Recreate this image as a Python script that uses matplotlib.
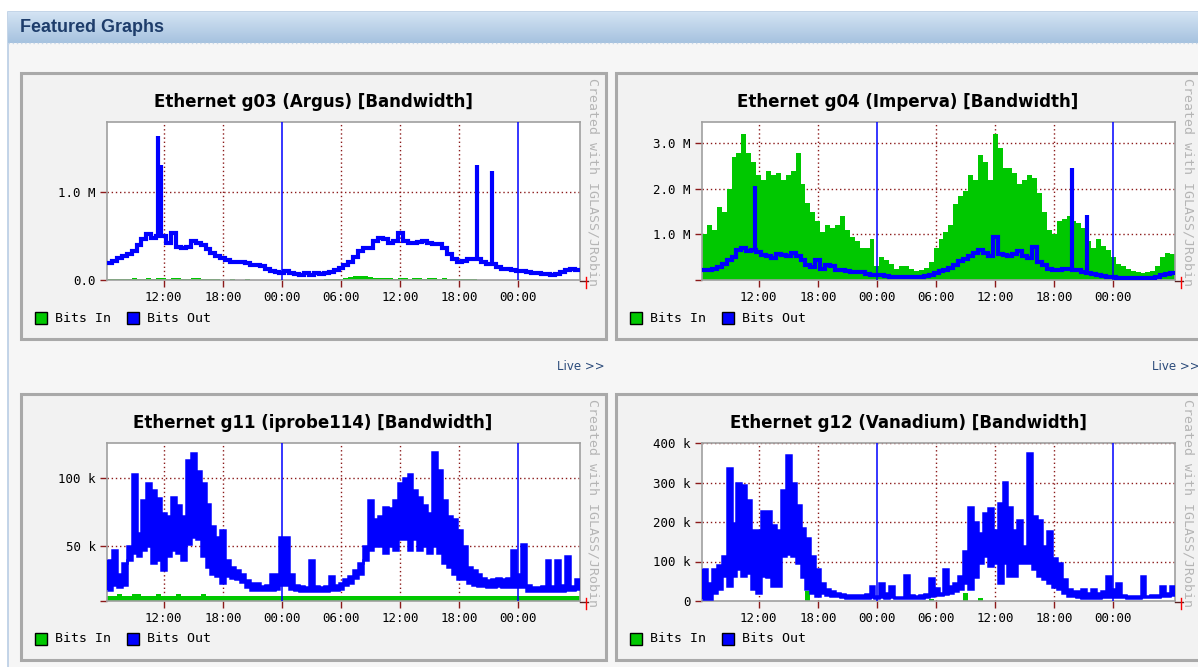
import numpy as np
import matplotlib.pyplot as plt
from matplotlib.patches import Rectangle
from matplotlib.colors import LinearSegmentedColormap

W, H = 1198, 667

# time axis: half-hour bins starting at 06:15 on day one (hours from day-one midnight)
start_hour = 6.25
bin_hours = 0.5
tick_hours = [12, 18, 24, 30, 36, 42, 48]
tick_labels = ["12:00", "18:00", "00:00", "06:00", "12:00", "18:00", "00:00"]
midnights = [24, 48]

titles = ["Ethernet g03 (Argus) [Bandwidth]",
          "Ethernet g04 (Imperva) [Bandwidth]",
          "Ethernet g11 (iprobe114) [Bandwidth]",
          "Ethernet g12 (Vanadium) [Bandwidth]"]

# g03, Mbit/s
g03_in = [0.01, 0.015, 0.015, 0.01, 0.015, 0.02, 0.015, 0.015, 0.02, 0.015,
          0.02, 0.02, 0.015, 0.02, 0.02, 0.015, 0.015, 0.02, 0.02, 0.015,
          0.015, 0.01, 0.01, 0.005, 0.005, 0.01, 0.005, 0.005, 0.01, 0.005,
          0.005, 0.005, 0.005, 0.005, 0.005, 0.005, 0.005, 0.005, 0.005, 0.005,
          0.005, 0.005, 0.005, 0.005, 0.01, 0.01, 0.01, 0.015, 0.02, 0.03,
          0.045, 0.05, 0.045, 0.03, 0.025, 0.02, 0.02, 0.02, 0.015, 0.02,
          0.02, 0.015, 0.02, 0.02, 0.015, 0.02, 0.02, 0.015, 0.02, 0.015,
          0.015, 0.01, 0.01, 0.01, 0.01, 0.005, 0.005, 0.005, 0.005, 0.005,
          0.005, 0.005, 0.005, 0.005, 0.005, 0.005, 0.005, 0.005, 0.005, 0.005,
          0.005, 0.005, 0.005, 0.005, 0.005, 0.005]
g03_out = [0.19, 0.22, 0.25, 0.27, 0.30, 0.33, 0.40, 0.47, 0.52, 0.48,
           0.50, 0.50, 0.42, 0.54, 0.38, 0.36, 0.38, 0.44, 0.42, 0.40,
           0.35, 0.31, 0.27, 0.25, 0.23, 0.20, 0.20, 0.21, 0.19, 0.17,
           0.17, 0.16, 0.13, 0.10, 0.09, 0.08, 0.10, 0.08, 0.07, 0.06,
           0.08, 0.06, 0.08, 0.07, 0.08, 0.09, 0.11, 0.14, 0.17, 0.21,
           0.26, 0.33, 0.36, 0.36, 0.45, 0.48, 0.47, 0.42, 0.45, 0.53,
           0.45, 0.42, 0.42, 0.43, 0.45, 0.42, 0.41, 0.41, 0.36, 0.30,
           0.24, 0.20, 0.22, 0.24, 0.24, 0.24, 0.20, 0.18, 0.18, 0.15,
           0.13, 0.12, 0.11, 0.10, 0.10, 0.09, 0.08, 0.08, 0.07, 0.07,
           0.06, 0.07, 0.09, 0.11, 0.12, 0.11]
g03_spike_hours = [11.45, 11.75, 43.75, 45.27]
g03_spike_values = [1.64, 1.31, 1.31, 1.24]

# g04, Mbit/s
g04_in = [1.0, 1.2, 1.1, 1.6, 1.5, 2.0, 2.7, 2.8, 3.2, 2.8,
          2.6, 2.3, 2.2, 2.4, 2.3, 2.35, 2.2, 2.3, 2.4, 2.8,
          2.1, 1.7, 1.5, 1.3, 1.05, 1.2, 1.15, 1.2, 1.4, 1.1,
          0.95, 0.85, 0.7, 0.7, 0.9, 0.3, 0.5, 0.45, 0.36, 0.25,
          0.3, 0.3, 0.25, 0.2, 0.22, 0.27, 0.4, 0.7, 0.9, 1.05,
          1.2, 1.68, 1.85, 1.95, 2.3, 2.2, 2.75, 2.6, 2.2, 3.2,
          2.9, 2.45, 2.45, 2.35, 2.1, 2.2, 2.3, 2.25, 1.9, 1.5,
          1.1, 1.0, 1.3, 1.35, 1.4, 1.3, 1.25, 1.15, 0.85, 0.7,
          0.9, 0.75, 0.66, 0.5, 0.36, 0.3, 0.25, 0.2, 0.18, 0.16,
          0.17, 0.2, 0.3, 0.5, 0.6, 0.58]
g04_out = [0.23, 0.23, 0.25, 0.28, 0.35, 0.43, 0.50, 0.66, 0.70, 0.63,
           0.65, 0.62, 0.55, 0.52, 0.49, 0.58, 0.55, 0.52, 0.60, 0.52,
           0.45, 0.33, 0.28, 0.45, 0.24, 0.33, 0.30, 0.22, 0.22, 0.19,
           0.18, 0.18, 0.17, 0.13, 0.11, 0.11, 0.10, 0.08, 0.07, 0.06,
           0.06, 0.06, 0.06, 0.06, 0.07, 0.09, 0.11, 0.15, 0.19, 0.22,
           0.27, 0.33, 0.41, 0.47, 0.53, 0.60, 0.66, 0.60, 0.53, 0.95,
           0.58, 0.55, 0.52, 0.58, 0.63, 0.52, 0.48, 0.73, 0.40, 0.34,
           0.25, 0.22, 0.22, 0.25, 0.24, 0.22, 0.22, 0.18, 0.16, 0.14,
           0.11, 0.09, 0.07, 0.06, 0.05, 0.04, 0.04, 0.04, 0.04, 0.04,
           0.04, 0.05, 0.07, 0.10, 0.13, 0.15]
g04_spike_hours = [11.65, 43.8, 45.27]
g04_spike_values = [2.06, 2.46, 1.42]

# g11, kbit/s (out is noisy: upper and lower swing per bin)
g11_in = [14, 14, 15, 14, 14, 15, 15, 14, 14, 14,
          15, 14, 14, 14, 15, 14, 14, 14, 14, 15,
          14, 14, 14, 14, 14, 14, 14, 14, 14, 14,
          14, 14, 14, 14, 14, 14, 14, 14, 14, 14,
          14, 14, 14, 14, 14, 14, 14, 14, 14, 14,
          14, 14, 14, 14, 14, 14, 14, 14, 14, 14,
          14, 14, 14, 14, 14, 14, 14, 14, 14, 14,
          14, 14, 14, 14, 14, 14, 14, 14, 14, 14,
          14, 14, 14, 14, 14, 14, 14, 14, 14, 14,
          14, 14, 14, 14, 14, 14]
g11_out_hi = [40, 47, 30, 38, 50, 103, 60, 84, 96, 91,
              85, 74, 72, 86, 80, 72, 113, 118, 105, 96,
              81, 65, 57, 62, 40, 35, 33, 30, 25, 23,
              23, 21, 22, 30, 30, 57, 57, 30, 22, 21,
              20, 40, 21, 20, 21, 28, 22, 23, 26, 28,
              33, 38, 50, 84, 70, 72, 79, 78, 84, 96,
              100, 103, 91, 86, 80, 74, 119, 106, 84, 72,
              70, 62, 50, 35, 33, 30, 27, 25, 26, 27,
              26, 27, 47, 30, 52, 22, 20, 20, 21, 40,
              21, 40, 22, 43, 21, 26]
g11_out_lo = [18, 22, 20, 22, 40, 45, 43, 47, 50, 38,
              40, 33, 43, 47, 45, 40, 52, 57, 55, 43,
              35, 30, 28, 23, 28, 27, 26, 24, 20, 18,
              18, 18, 18, 18, 19, 22, 22, 19, 18, 17,
              17, 17, 17, 17, 17, 18, 18, 19, 22, 23,
              27, 30, 40, 47, 50, 50, 45, 50, 47, 55,
              55, 47, 55, 47, 50, 45, 50, 45, 38, 35,
              30, 26, 26, 23, 22, 21, 21, 20, 20, 21,
              20, 20, 20, 20, 20, 17, 17, 17, 17, 17,
              17, 17, 17, 18, 18, 19]

# g12, kbit/s
g12_in = [0.5] * 21 + [25] + [0.5] * 24 + [4] + [0.5] * 6 + [21, 0.5, 0.5, 8] + [0.5] * 39
g12_out_hi = [80, 46, 80, 92, 113, 336, 197, 298, 294, 256,
              180, 180, 227, 227, 193, 180, 281, 370, 298, 244,
              185, 160, 113, 80, 46, 30, 25, 20, 17, 15,
              15, 15, 14, 17, 38, 13, 46, 20, 38, 10,
              10, 67, 15, 12, 15, 17, 59, 34, 21, 80,
              38, 45, 63, 126, 239, 200, 172, 223, 235, 180,
              248, 302, 239, 180, 206, 139, 374, 214, 206, 139,
              176, 110, 97, 55, 30, 25, 25, 30, 20, 30,
              20, 25, 63, 30, 46, 15, 12, 12, 12, 63,
              13, 14, 15, 38, 20, 38]
g12_out_lo = [4, 4, 20, 30, 63, 38, 63, 80, 63, 71,
              30, 21, 63, 60, 38, 38, 113, 120, 113, 97,
              60, 30, 21, 13, 21, 15, 13, 13, 10, 8,
              8, 8, 8, 8, 10, 8, 10, 8, 10, 8,
              8, 8, 8, 8, 8, 10, 12, 15, 15, 18,
              21, 25, 30, 46, 30, 60, 97, 113, 88, 97,
              46, 97, 63, 63, 97, 97, 97, 80, 63, 55,
              46, 35, 30, 21, 13, 13, 10, 8, 8, 8,
              8, 10, 10, 10, 10, 10, 8, 8, 8, 10,
              10, 10, 10, 12, 12, 15]

y_limits = [(0, 1.8), (0, 3.47), (10, 125.5), (0, 400)]
y_ticks = [[0, 1.0], [0, 1.0, 2.0, 3.0], [10, 50, 100], [0, 100, 200, 300, 400]]
y_tick_labels = [["0.0", "1.0 M"], ["", "1.0 M", "2.0 M", "3.0 M"],
                 ["", "50 k", "100 k"], ["0", "100 k", "200 k", "300 k", "400 k"]]

GREEN = "#00c800"
BLUE = "#0000ff"
GRID = "#8b1a1a"
MONO = "DejaVu Sans Mono"

fig = plt.figure(figsize=(W / 100, H / 100), dpi=100)
fig.patch.set_facecolor("white")

# page decoration in pixel coordinates
bg = fig.add_axes([0, 0, 1, 1])
bg.axis("off")
bg.add_patch(Rectangle((8, 12), 1195, 660, facecolor="#f6f6f6", edgecolor="#b9cde4", lw=1.2))
head = LinearSegmentedColormap.from_list("head", ["#d3e3f3", "#a6c2df"])
bg.imshow(np.linspace(0, 1, 30).reshape(-1, 1), cmap=head, aspect="auto",
          extent=(8, 1198, 43, 12), zorder=1)
bg.plot([8, 1198], [43, 43], color="#c9d8e8", lw=1, ls=(0, (1, 2)), zorder=2)
bg.text(20, 27, "Featured Graphs", family="Liberation Sans", weight="bold",
        size=13, color="#1e3d6b", va="center", ha="left", zorder=3)

panel_origin = [(0, 0), (595, 0), (0, 321), (595, 321)]
for dx, dy in panel_origin:
    bg.add_patch(Rectangle((21 + dx, 73 + dy), 585, 266, facecolor="#f2f2f2",
                           edgecolor="#a9a9a9", lw=2.2, zorder=2))

for x in (557, 1152):
    bg.text(x, 367, "Live >>", size=8.5, color="#2a4a7a", va="center", ha="left", zorder=3)

series = [(g03_in, g03_out, None), (g04_in, g04_out, None),
          (g11_in, g11_out_hi, g11_out_lo), (g12_in, g12_out_hi, g12_out_lo)]
spikes = [(g03_spike_hours, g03_spike_values), (g04_spike_hours, g04_spike_values), None, None]
edges = start_hour + bin_hours * np.arange(len(g03_out) + 1)

for k, (dx, dy) in enumerate(panel_origin):
    x0, x1, y0, y1 = 107 + dx, 580 + dx, 122 + dy, 280 + dy
    ax = fig.add_axes([x0 / W, 1 - y1 / H, (x1 - x0) / W, (y1 - y0) / H])
    ax.set_facecolor("white")
    bits_in, bits_out, bits_lo = series[k]

    for t in tick_hours:
        if t not in midnights:
            ax.axvline(t, color=GRID, lw=1, ls=(0, (1, 2)), zorder=1)
    for yv in y_ticks[k]:
        if yv != y_limits[k][0]:
            ax.axhline(yv, color=GRID, lw=1, ls=(0, (1, 2)), zorder=1)

    ax.stairs(bits_in, edges, baseline=0, fill=True, color=GREEN, zorder=2)
    if bits_lo is None:
        ax.stairs(bits_out, edges, baseline=None, color=BLUE, lw=3.0, zorder=3)
        sh, sv = spikes[k]
        idx = ((np.array(sh) - start_hour) / bin_hours).astype(int)
        ax.vlines(sh, np.array(bits_out)[idx], sv, color=BLUE, lw=3.0, zorder=3)
    else:
        ax.stairs(bits_out, edges, baseline=bits_lo, fill=True, color=BLUE, zorder=3)
        ax.stairs(bits_out, edges, baseline=None, color=BLUE, lw=1.8, zorder=3)
        ax.stairs(bits_lo, edges, baseline=None, color=BLUE, lw=1.8, zorder=3)
    for t in midnights:
        ax.axvline(t, color=BLUE, lw=1.1, zorder=4)

    ax.set_xlim(edges[0], edges[-1])
    ax.set_ylim(*y_limits[k])
    ax.set_xticks(tick_hours, tick_labels)
    ax.set_yticks(y_ticks[k], y_tick_labels[k])
    ax.tick_params(direction="out", length=5, width=1, color=GRID, pad=3,
                   labelsize=9, labelcolor="black")
    for lab in ax.get_xticklabels() + ax.get_yticklabels():
        lab.set_family(MONO)
    for sp in ax.spines.values():
        sp.set_color("#a0a0a0")
        sp.set_linewidth(1.2)

    # title, watermark, legend and end marker around the plot
    bg.text(313 + dx, 102 + dy, titles[k], weight="bold", size=12,
            ha="center", va="center", zorder=3)
    bg.text(593 + dx, 78 + dy, "Created with IGLASS/JRobin", rotation=270,
            family=MONO, size=9.5, color="#b5b5b5", ha="center", va="top", zorder=3)
    bg.plot([580 + dx, 588 + dx], [281 + dy, 281 + dy], color="#5a2020", lw=1, zorder=3)
    bg.plot([586 + dx, 586 + dx], [277 + dy, 288 + dy], color="red", lw=1, zorder=3)
    bg.add_patch(Rectangle((35 + dx, 312 + dy), 12, 12, facecolor=GREEN,
                           edgecolor="black", lw=1, zorder=3))
    bg.text(55 + dx, 318 + dy, "Bits In", family=MONO, size=9.5, va="center", zorder=3)
    bg.add_patch(Rectangle((127 + dx, 312 + dy), 12, 12, facecolor=BLUE,
                           edgecolor="black", lw=1, zorder=3))
    bg.text(147 + dx, 318 + dy, "Bits Out", family=MONO, size=9.5, va="center", zorder=3)

bg.set_xlim(0, W)
bg.set_ylim(H, 0)

fig.savefig("out.png", dpi=100)
